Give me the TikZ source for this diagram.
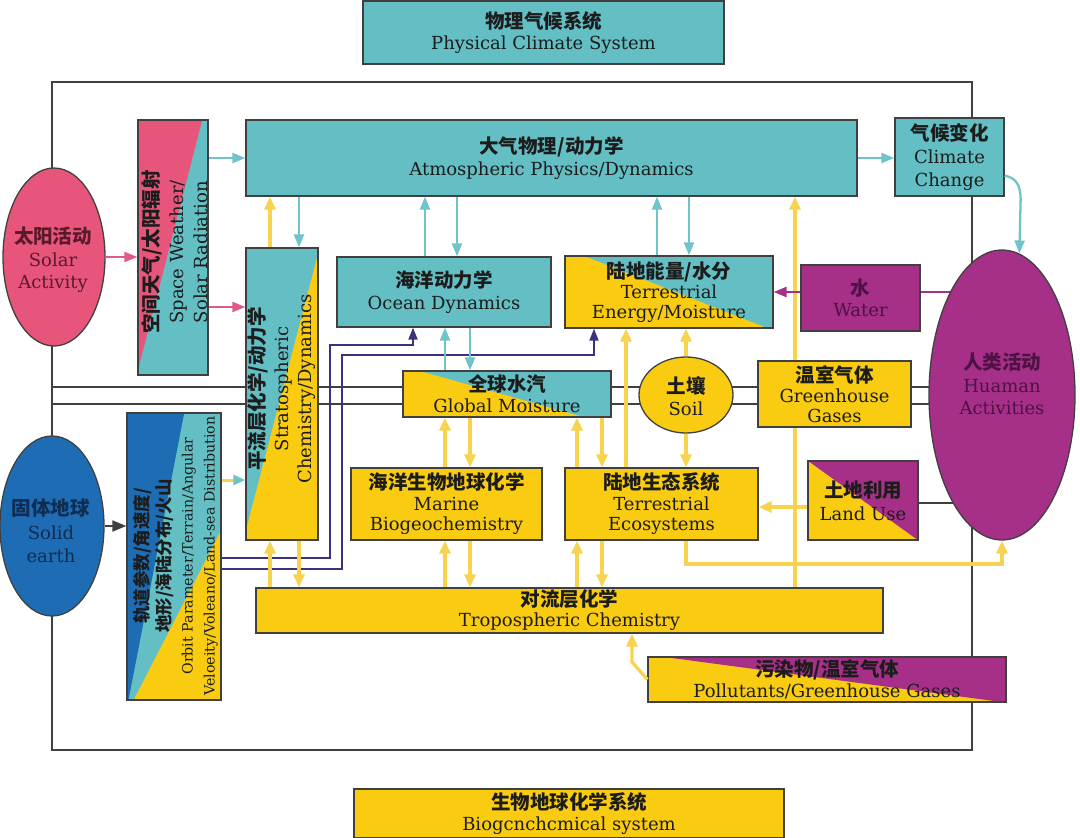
\documentclass[tikz,border=0pt]{standalone}
\usepackage{fontspec}
\setmainfont{DejaVu Serif}
\newfontfamily\cjk{Noto Sans CJK SC}
\usetikzlibrary{arrows.meta,calc,shapes.geometric}
\pgfdeclarelayer{lines}
\pgfdeclarelayer{fills}
\pgfsetlayers{lines,fills,main}
\definecolor{cteal}{HTML}{63BFC4}
\definecolor{cyel}{HTML}{F9CC12}
\definecolor{cpink}{HTML}{E8557B}
\definecolor{cpur}{HTML}{A62F88}
\definecolor{cblue}{HTML}{1E6DB4}
\definecolor{ayel}{HTML}{F7D350}
\definecolor{ateal}{HTML}{6FC3C9}
\definecolor{apink}{HTML}{E0598A}
\definecolor{cnavy}{HTML}{3A347E}
\definecolor{edge}{HTML}{404040}
\definecolor{txt}{HTML}{1C1C1C}
\definecolor{txtpur}{HTML}{4E1244}
\definecolor{txtred}{HTML}{5A1A2C}
\definecolor{txtblue}{HTML}{102C52}
\lineskiplimit=-40pt
\newcommand\zh[1]{{\cjk\bfseries\fontsize{19.5}{21.5}\selectfont #1}}
\newcommand\zhs[1]{{\cjk\bfseries\fontsize{17.5}{22}\selectfont #1}}
\begin{document}
\begin{tikzpicture}[x=1pt,y=-1pt,
  box/.style={draw=edge,line width=1.3pt,rectangle,inner sep=0pt,align=center,text=txt,font=\fontsize{18}{21.5}\selectfont},
  lab/.style={align=center,text=txt,inner sep=0pt,font=\fontsize{18}{21.5}\selectfont},
  ell/.style={draw=edge,line width=1.3pt,ellipse,inner sep=0pt},
  tarr/.style={draw=ateal,line width=2.3pt,-{Triangle[length=13pt,width=10pt]}},
  yarr/.style={draw=ayel,line width=3.3pt,-{Triangle[length=13pt,width=11pt]}},
  parr/.style={draw=apink,line width=2.3pt,-{Triangle[length=13pt,width=10pt]}},
  uarr/.style={draw=cpur,line width=2.3pt,-{Triangle[length=13pt,width=10pt]}},
  narr/.style={draw=cnavy,line width=2pt,-{Triangle[length=12pt,width=9pt]}},
  karr/.style={draw=edge,line width=2pt,-{Triangle[length=14pt,width=11pt]}},
  kline/.style={draw=edge,line width=1.5pt},
  uline/.style={draw=cpur,line width=2.3pt}
]
\useasboundingbox (0,0) rectangle (1080,838);
\foreach \v in {270,299,330,342,413,425,445,457,470,577,594,602,626,632,657,686,689,795}
  \coordinate (X\v) at (\v,0);
\foreach \v in {292,307,345,355,387,404,480,503,507,558,564,569,662}
  \coordinate (Y\v) at (0,\v);

% ---- boxes ----
\node[box,fill=cteal,minimum width=361,minimum height=63] (phys) at (543.5,32.5) {\zh{物理气候系统}\\Physical Climate System};
\node[box,fill=cyel,minimum width=430,minimum height=49] (bio) at (569,813.5) {\zh{生物地球化学系统}\\Biogcnchcmical system};

\node[ell,fill=cpink,minimum width=102,minimum height=178] (solar) at (54,257) {};
\node[lab,text=txtred,font=\fontsize{18}{22.5}\selectfont] (solarT) at (53,260) {\zh{太阳活动}\\Solar\\Activity};

\node[box,minimum width=70,minimum height=255] (space) at (173,247.5) {};
\node[lab,rotate=90,font=\fontsize{18}{24.5}\selectfont] (spaceT) at (175,252) {\zh{空间天气/太阳辐射}\\Space Weather/\\Solar Radiation};

\node[box,fill=cteal,minimum width=611,minimum height=76] (atm) at (551.5,158) {\zh{大气物理/动力学}\\Atmospheric Physics/Dynamics};
\node[box,fill=cteal,minimum width=109,minimum height=78,font=\fontsize{18}{23}\selectfont] (clim) at (949.5,157) {\zh{气候变化}\\Climate\\Change};

\node[box,minimum width=72,minimum height=292] (strat) at (282,394) {};
\node[lab,rotate=90,font=\fontsize{18}{23.5}\selectfont] (stratT) at (282,389) {\zh{平流层化学/动力学}\\Stratospheric\\Chemistry/Dynamics};

\node[box,fill=cteal,minimum width=214,minimum height=70] (ocean) at (444,292) {\zh{海洋动力学}\\Ocean Dynamics};
\node[box,minimum width=208,minimum height=72,font=\fontsize{18}{20}\selectfont] (terr) at (669,292) {\zh{陆地能量/水分}\\Terrestrial\\Energy/Moisture};
\node[box,fill=cpur,text=txtpur,minimum width=119,minimum height=66] (water) at (860.5,298) {\zh{水}\\Water};

\node[ell,fill=cpur,minimum width=146,minimum height=290] (human) at (1002,395) {};
\node[lab,text=txtpur,font=\fontsize{18}{22.5}\selectfont] (humanT) at (1002,384) {\zh{人类活动}\\Huaman\\Activities};

\node[box,minimum width=208,minimum height=46,font=\fontsize{18}{21}\selectfont] (gm) at (507,394) {\zh{全球水汽}\\Global Moisture};
\node[ell,fill=cyel,minimum width=94,minimum height=76] (soil) at (686,395) {};
\node[lab] (soilT) at (686,396) {\zh{土壤}\\Soil};
\node[box,fill=cyel,minimum width=153,minimum height=66,font=\fontsize{18}{20}\selectfont] (green) at (834.5,394) {\zh{温室气体}\\Greenhouse\\Gases};

\node[ell,fill=cblue,minimum width=104,minimum height=180] (solid) at (52,526) {};
\node[lab,text=txtblue,font=\fontsize{18}{23.5}\selectfont] (solidT) at (51,531) {\zh{固体地球}\\Solid\\earth};

\node[box,minimum width=94,minimum height=287] (orbit) at (174,556.5) {};
\node[lab,rotate=90,font=\fontsize{14.2}{22}\selectfont] (orbitT) at (175.5,556) {\zhs{轨道参数/角速度/}\\\zhs{地形/海陆分布/火山}\\Orbit Parameter/Terrain/Angular\\Veloeity/Voleano/Land-sea Distribution};

\node[box,fill=cyel,minimum width=191,minimum height=72,font=\fontsize{18}{20.5}\selectfont] (marine) at (446.5,504) {\zh{海洋生物地球化学}\\Marine\\Biogeochemistry};
\node[box,fill=cyel,minimum width=193,minimum height=72,font=\fontsize{18}{20.5}\selectfont] (eco) at (661.5,504) {\zh{陆地生态系统}\\Terrestrial\\Ecosystems};
\node[box,minimum width=110,minimum height=79,font=\fontsize{18}{23}\selectfont] (land) at (863,500.5) {\zh{土地利用}\\Land Use};
\node[box,fill=cyel,minimum width=627,minimum height=45,font=\fontsize{18}{20}\selectfont] (trop) at (569.5,610.5) {\zh{对流层化学}\\Tropospheric Chemistry};
\node[box,minimum width=358,minimum height=45,font=\fontsize{18}{21}\selectfont] (poll) at (827,679.5) {\zh{污染物/温室气体}\\Pollutants/Greenhouse Gases};

% ---- split fills ----
\begin{pgfonlayer}{fills}
  \fill[cteal] (space.north west) rectangle (space.south east);
  \fill[cpink] (space.north west) -- ($(space.north west)+(65,0)$) -- ($(space.south west)+(0,-3)$) -- cycle;
  \fill[cteal] (strat.north west) rectangle (strat.south east);
  \fill[cyel] ($(strat.north east)+(0,4)$) -- (strat.south east) -- (strat.south west) -- ($(strat.south west)+(0,-8)$) -- cycle;
  \fill[cteal] (terr.north west) rectangle (terr.south east);
  \fill[cyel] (terr.north west) -- ($(terr.north west)+(18,0)$) -- ($(terr.south east)+(-5,0)$) -- (terr.south west) -- cycle;
  \fill[cteal] (gm.north west) rectangle (gm.south east);
  \fill[cyel] (gm.north west) -- ($(gm.north west)+(15,0)$) -- ($(gm.south east)+(-26,0)$) -- (gm.south west) -- cycle;
  \fill[cteal] (orbit.north west) rectangle (orbit.south east);
  \fill[cblue] (orbit.north west) -- ($(orbit.north west)+(58,0)$) -- ($(orbit.south west)+(2,0)$) -- (orbit.south west) -- cycle;
  \fill[cyel] ($(orbit.north east)+(0,117)$) -- (orbit.south east) -- ($(orbit.south west)+(7,0)$) -- cycle;
  \fill[cyel] (land.north west) rectangle (land.south east);
  \fill[cpur] (land.north west) -- (land.north east) -- (land.south east) -- cycle;
  \fill[cyel] (poll.north west) rectangle (poll.south east);
  \fill[cpur] ($(poll.north west)+(12,0)$) -- (poll.north east) -- (poll.south east) -- cycle;
\end{pgfonlayer}

% ---- background lines ----
\begin{pgfonlayer}{lines}
  \node[draw=edge,line width=1.3pt,minimum width=920,minimum height=668,inner sep=0pt] (frame) at (512,416) {};
  \draw[kline] (frame.west |- Y387) -- (human.center |- Y387);
  \draw[kline] (frame.west |- Y404) -- (human.center |- Y404);
  \draw[kline] (land.east |- Y503) -- (human.center |- Y503);
  \draw[uline] (water.east |- Y292) -- (human.center |- Y292);
  \draw[yarr] (trop.north -| X795) -- (atm.south -| X795);
\end{pgfonlayer}

% ---- connectors ----
\draw[narr] (orbit.east |- Y558) -| (X330 |- Y345) -| (ocean.south -| X413);
\draw[narr] (orbit.east |- Y569) -| (X342 |- Y355) -| (terr.south -| X594);

\draw[karr] (solid.east) -- (orbit.west |- solid.east);
\draw[draw=ayel,line width=3pt,-{Triangle[length=12pt,width=10pt,color=ateal]}] (orbit.east |- Y480) -- (strat.west |- Y480);

\draw[parr] (solar.east) -- (space.west |- solar.east);
\draw[parr] (space.east |- Y307) -- (strat.west |- Y307);
\draw[tarr] (space.east |- atm.west) -- (atm.west);
\draw[tarr] (atm.east) -- (clim.west |- atm.east);
\coordinate (cc) at ($(clim.south east)+(0,-21)$);
\draw[tarr] (cc) .. controls ($(cc)+(11,2)$) and ($(cc)+(16,9)$) .. ($(cc)+(16,24)$) -- (human.83);

\draw[yarr] (strat.north -| X270) -- (atm.south -| X270);
\draw[tarr] (atm.south -| X299) -- (strat.north -| X299);
\draw[tarr] (ocean.north -| X425) -- (atm.south -| X425);
\draw[tarr] (atm.south -| X457) -- (ocean.north -| X457);
\draw[tarr] (terr.north -| X657) -- (atm.south -| X657);
\draw[tarr] (atm.south -| X689) -- (terr.north -| X689);

\draw[tarr] (gm.north -| X445) -- (ocean.south -| X445);
\draw[tarr] (ocean.south -| X470) -- (gm.north -| X470);
\draw[yarr] (marine.north -| X445) -- (gm.south -| X445);
\draw[yarr] (gm.south -| X470) -- (marine.north -| X470);
\draw[yarr] (eco.north -| X577) -- (gm.south -| X577);
\draw[yarr] (gm.south -| X602) -- (eco.north -| X602);
\draw[yarr] (eco.north -| X626) -- (terr.south -| X626);
\draw[yarr] (soil.north) -- (terr.south -| soil.north);
\draw[yarr] (soil.south) -- (eco.north -| soil.south);

\draw[uarr] (water.west |- Y292) -- (terr.east |- Y292);

\draw[yarr] (trop.north -| X270) -- (strat.south -| X270);
\draw[yarr] (strat.south -| X299) -- (trop.north -| X299);
\draw[yarr] (trop.north -| X445) -- (marine.south -| X445);
\draw[yarr] (marine.south -| X470) -- (trop.north -| X470);
\draw[yarr] (trop.north -| X577) -- (eco.south -| X577);
\draw[yarr] (eco.south -| X602) -- (trop.north -| X602);

\draw[yarr] (land.west |- Y507) -- (eco.east |- Y507);
\draw[yarr] (eco.south -| X686) |- (human.south |- Y564) -- (human.south);
\draw[yarr] (poll.west) -- (X632 |- Y662) -- (trop.south -| X632);
\end{tikzpicture}
\end{document}
